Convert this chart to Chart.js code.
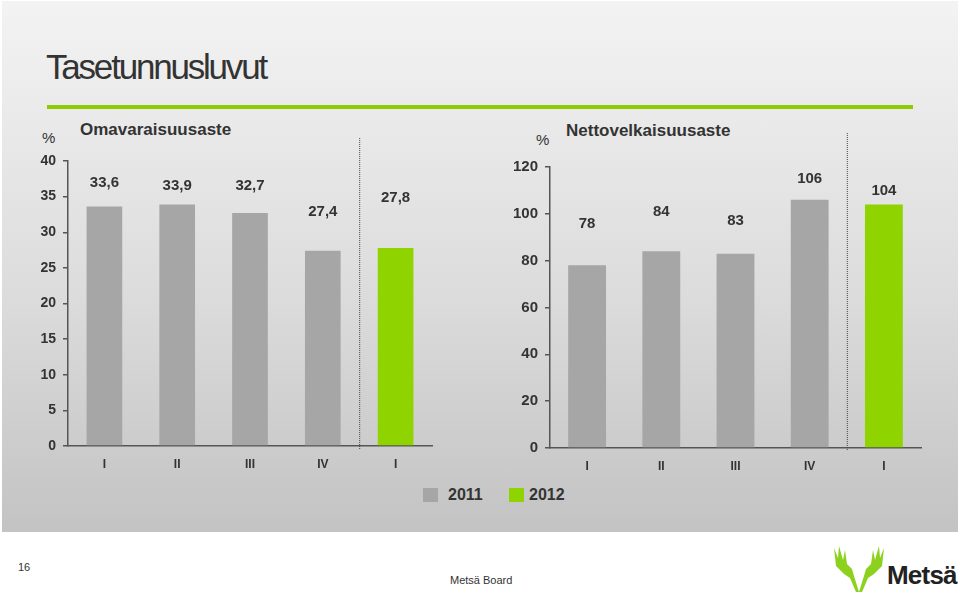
<!DOCTYPE html>
<html>
<head>
<meta charset="utf-8">
<script src="https://cdn.jsdelivr.net/npm/chart.js@4/dist/chart.umd.min.js"></script>
<style>
  html, body { margin: 0; padding: 0; background: #fff; }
  body { width: 960px; height: 594px; position: relative; overflow: hidden; font-family: "Liberation Sans", Arial, sans-serif; color: #333; }
  .panel { position: absolute; left: 2px; top: 1px; width: 956px; height: 531px; background: linear-gradient(#f3f3f3, #dcdcdc 55%, #c3c3c3); }
  .abs { position: absolute; white-space: nowrap; }
  h1 { position: absolute; left: 46px; top: 47px; margin: 0; font-size: 35px; font-weight: normal; letter-spacing: -2.2px; color: #333; }
  .rule { position: absolute; left: 47px; top: 105px; width: 866px; height: 4px; background: #8dcc00; }
  .ctitle { font-size: 17px; font-weight: bold; color: #333; }
  .pct { font-size: 15px; color: #333; }
  canvas { position: absolute; }
  .legend { position: absolute; top: 486px; font-size: 16px; font-weight: bold; color: #333; }
  .sw { position: absolute; width: 15px; height: 14px; top: 488px; }
</style>
</head>
<body>
<div class="panel"></div>
<h1>Tasetunnusluvut</h1>
<div class="rule"></div>

<div class="abs pct" style="left:42px; top:129px;">%</div>
<div class="abs ctitle" style="left:80px; top:120px;">Omavaraisuusaste</div>
<div class="abs pct" style="left:536px; top:131px;">%</div>
<div class="abs ctitle" style="left:566px; top:121px;">Nettovelkaisuusaste</div>

<canvas id="equityChart" width="430" height="356" style="left:20px; top:120px;"></canvas>
<canvas id="gearingChart" width="440" height="358" style="left:500px; top:120px;"></canvas>

<div class="sw" style="left:423px; background:#a6a6a6;"></div>
<div class="legend" style="left:448px;">2011</div>
<div class="sw" style="left:509px; background:#8fd400;"></div>
<div class="legend" style="left:529px;">2012</div>

<div class="abs" style="left:18px; top:561px; font-size:11px; color:#333;">16</div>
<div class="abs" style="left:450px; top:574px; font-size:11px; color:#333;">Metsä Board</div>
<svg class="abs" style="left:834px; top:544px;" width="50" height="50" viewBox="0 0 50 50">
  <polygon fill="#8cd11e" points="0,4 4,14 5,2 9,16 11,6 13,20 18,25 20,32 25,48 30,32 32,25 37,20 39,6 41,16 45,2 46,14 50,4 48,22 40,30 34,34 28,48 22,48 16,34 10,30 2,22"/>
</svg>
<div class="abs" style="left:887px; top:560px; font-size:26px; font-weight:bold; letter-spacing:-0.8px; color:#222;">Metsä</div>

<script>
// quarters: 2011 I-IV, then 2012 I
const quarters = ['I', 'II', 'III', 'IV', 'I'];

// Omavaraisuusaste, %
const equity2011 = [33.6, 33.9, 32.7, 27.4, null];
const equity2012 = [null, null, null, null, 27.8];

// Nettovelkaisuusaste, %
const gearing2011 = [78, 84, 83, 106, null];
const gearing2012 = [null, null, null, null, 104];

const GREY = '#a6a6a6';
const GREEN = '#8fd400';

// dotted split line + value labels above bars
const barExtras = {
    id: 'barExtras',
    afterDatasetsDraw(chart, args, opts) {
        const ctx = chart.ctx;
        const xs = chart.scales.x;
        const area = chart.chartArea;
        const sx = (xs.getPixelForValue(opts.splitAt - 1) + xs.getPixelForValue(opts.splitAt)) / 2;
        ctx.save();
        ctx.strokeStyle = '#444';
        ctx.lineWidth = 1;
        ctx.setLineDash([1, 1]);
        ctx.beginPath();
        ctx.moveTo(sx + 0.5, opts.lineTop);
        ctx.lineTo(sx + 0.5, area.bottom + 3);
        ctx.stroke();
        ctx.setLineDash([]);

        ctx.fillStyle = '#333';
        ctx.font = 'bold ' + opts.fontSize + 'px "Liberation Sans", Arial, sans-serif';
        ctx.textAlign = 'center';
        ctx.textBaseline = 'middle';
        chart.data.datasets.forEach(function(ds, di) {
            chart.getDatasetMeta(di).data.forEach(function(bar, i) {
                const v = ds.data[i];
                if (v === null) return;
                const txt = v.toFixed(opts.decimals).replace('.', ',');
                ctx.fillText(txt, bar.x, bar.y - opts.lift[i]);
            });
        });
        ctx.restore();
    }
};

function makeChart(id, d11, d12, yMax, yStep, cfg) {
    return new Chart(document.getElementById(id), {
        type: 'bar',
        data: {
            labels: quarters,
            datasets: [
                { label: '2011', data: d11, backgroundColor: GREY, categoryPercentage: 1, barPercentage: cfg.barPct },
                { label: '2012', data: d12, backgroundColor: GREEN, categoryPercentage: 1, barPercentage: cfg.barPct }
            ]
        },
        options: {
            responsive: false,
            animation: false,
            devicePixelRatio: 1,
            layout: { padding: { top: cfg.padTop, right: cfg.padRight, left: 0, bottom: 0 } },
            plugins: {
                legend: { display: false },
                tooltip: { enabled: false },
                barExtras: cfg.extras
            },
            scales: {
                x: {
                    stacked: true,
                    grid: { display: false },
                    border: { color: '#555', width: 1.5 },
                    ticks: { color: '#333', font: { size: 12, weight: 'bold', family: '"Liberation Sans", Arial' }, padding: 3 },
                    afterFit(s) { s.height = 30; }
                },
                y: {
                    stacked: true,
                    min: 0,
                    max: yMax,
                    grid: { drawOnChartArea: false, tickLength: 5, color: '#555', lineWidth: 1.5 },
                    border: { color: '#555', width: 1.5 },
                    ticks: { stepSize: yStep, color: '#333', font: { size: cfg.tickSize, weight: 'bold', family: '"Liberation Sans", Arial' }, padding: 7 },
                    afterFit(s) { s.width = cfg.yWidth; }
                }
            }
        },
        plugins: [barExtras]
    });
}

window.addEventListener('DOMContentLoaded', function() {
    makeChart('equityChart', equity2011, equity2012, 40, 5, {
        barPct: 0.49, padTop: 41, padRight: 18, yWidth: 48, tickSize: 14,
        extras: { splitAt: 4, lineTop: 18, fontSize: 15, decimals: 1, lift: [24, 19, 27, 39, 50] }
    });
    makeChart('gearingChart', gearing2011, gearing2012, 120, 20, {
        barPct: 0.51, padTop: 47, padRight: 19, yWidth: 50, tickSize: 15,
        extras: { splitAt: 4, lineTop: 13, fontSize: 15, decimals: 0, lift: [41, 39, 33, 21, 14] }
    });
});
</script>
</body>
</html>
